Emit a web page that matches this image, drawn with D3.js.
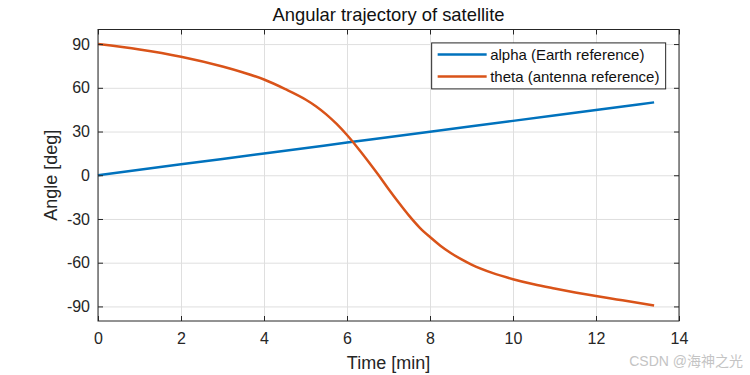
<!DOCTYPE html>
<html>
<head>
<meta charset="utf-8">
<script src="https://cdn.jsdelivr.net/npm/d3@7"></script>
<style>
  body { margin: 0; background: #fff; }
  svg { font-family: "Liberation Sans", Arial, sans-serif; }
</style>
</head>
<body>
<script>
// Angular trajectory of satellite

// Time [min] and angles [deg]
const alphaTime  = [0, 2, 4, 6, 8, 10, 12, 13.4];
const alphaAngle = [0, 7.5, 14.9, 22.4, 29.9, 37.3, 44.8, 50.0];

const thetaTime  = [0, 1, 2, 3, 3.5, 4, 4.5, 5, 5.25, 5.5, 5.75, 6, 6.25, 6.5, 6.75, 7, 7.25, 7.5, 7.75, 8,
                    8.25, 8.5, 8.75, 9, 9.5, 10, 10.5, 11, 11.5, 12, 12.5, 13, 13.4];
const thetaAngle = [90, 86.3, 81.3, 74.6, 70.5, 65.7, 59.3, 52, 47.4, 41.8, 35.2, 27.6, 19.1, 10, 0.5, -9.4, -18.9, -27.9, -35.9, -42.4,
                    -48.3, -53.3, -57.6, -61.3, -67, -71.3, -74.8, -77.7, -80.4, -82.9, -85.2, -87.5, -89.3];

const xTicks = [0, 2, 4, 6, 8, 10, 12, 14];
const yTicks = [-90, -60, -30, 0, 30, 60, 90];

const seriesNames = ["alpha (Earth reference)", "theta (antenna reference)"];
const colors = ["#0072BD", "#D95319"];

// Margin convention
const W = 750, H = 375;
const margin = {top: 29.5, right: 71, bottom: 54, left: 98};
const width = W - margin.left - margin.right,
      height = H - margin.top - margin.bottom;

const svg = d3.select("body").append("svg")
  .attr("width", W)
  .attr("height", H);

const g = svg.append("g")
  .attr("transform", `translate(${margin.left},${margin.top})`);

const x = d3.scaleLinear().domain([0, 14]).range([0, width]);
const y = d3.scaleLinear().domain([-100, 100]).range([height, 0]);

// plain hyphen minus, like MATLAB
const fmt = d => String(d);

// grid lines
g.append("g")
  .attr("transform", `translate(0,${height})`)
  .call(d3.axisBottom(x).tickValues(xTicks).tickSize(-height).tickFormat(""))
  .call(a => a.select(".domain").remove())
  .call(a => a.selectAll("line").attr("stroke", "#dfdfdf"));
g.append("g")
  .call(d3.axisLeft(y).tickValues(yTicks).tickSize(-width).tickFormat(""))
  .call(a => a.select(".domain").remove())
  .call(a => a.selectAll("line").attr("stroke", "#dfdfdf"));

// series
const line = d3.line().curve(d3.curveMonotoneX);
const series = [
  d3.zip(alphaTime, alphaAngle),
  d3.zip(thetaTime, thetaAngle)
];
series.forEach((pts, i) => {
  g.append("path")
    .attr("d", line(pts.map(p => [x(p[0]), y(p[1])])))
    .attr("fill", "none")
    .attr("stroke", colors[i])
    .attr("stroke-width", 2.5);
});

// axes with inward ticks
function styleAxis(a) {
  a.select(".domain").remove();
  a.selectAll("line").attr("stroke", "#262626");
  a.selectAll("text").attr("fill", "#262626").attr("font-size", 16)
    .attr("font-family", "Liberation Sans, Arial, sans-serif");
}
g.append("g")
  .attr("transform", `translate(0,${height})`)
  .call(d3.axisBottom(x).tickValues(xTicks).tickFormat(fmt).tickSizeInner(-5).tickSizeOuter(0).tickPadding(12))
  .call(styleAxis);
g.append("g")
  .call(d3.axisLeft(y).tickValues(yTicks).tickFormat(fmt).tickSizeInner(-5).tickSizeOuter(0).tickPadding(8))
  .call(styleAxis);
g.append("g")
  .call(d3.axisTop(x).tickValues(xTicks).tickSizeInner(-5).tickSizeOuter(0).tickFormat(""))
  .call(styleAxis);
g.append("g")
  .attr("transform", `translate(${width},0)`)
  .call(d3.axisRight(y).tickValues(yTicks).tickSizeInner(-5).tickSizeOuter(0).tickFormat(""))
  .call(styleAxis);

// box
g.append("rect")
  .attr("width", width).attr("height", height)
  .attr("fill", "none").attr("stroke", "#262626").attr("stroke-width", 1);

// title and labels
svg.append("text")
  .attr("x", margin.left + width / 2).attr("y", 21)
  .attr("text-anchor", "middle").attr("font-size", 18.4).attr("fill", "#111")
  .text("Angular trajectory of satellite");
svg.append("text")
  .attr("x", margin.left + width / 2).attr("y", 369)
  .attr("text-anchor", "middle").attr("font-size", 18).attr("fill", "#262626")
  .text("Time [min]");
svg.append("text")
  .attr("transform", `translate(56.5,${margin.top + height / 2}) rotate(-90)`)
  .attr("text-anchor", "middle").attr("font-size", 18).attr("fill", "#262626")
  .text("Angle [deg]");

// legend
const leg = g.append("g").attr("transform", `translate(${x(8.04)},${y(90.8)})`);
leg.append("rect")
  .attr("width", 234).attr("height", 46)
  .attr("fill", "#fff").attr("stroke", "#262626").attr("stroke-width", 1);
seriesNames.forEach((name, i) => {
  const ly = 11.7 + i * 22;
  leg.append("line")
    .attr("x1", 6).attr("x2", 55).attr("y1", ly).attr("y2", ly)
    .attr("stroke", colors[i]).attr("stroke-width", 2.5);
  leg.append("text")
    .attr("x", 58.5).attr("y", ly).attr("dy", "0.35em")
    .attr("font-size", 15).attr("fill", "#111")
    .text(name);
});

// watermark
svg.append("text")
  .attr("x", 743).attr("y", 366)
  .attr("text-anchor", "end").attr("font-size", 14).attr("fill", "#c4c4c4")
  .attr("font-family", "Liberation Sans, 'Noto Sans CJK SC', sans-serif")
  .text("CSDN @海神之光");
</script>
</body>
</html>
